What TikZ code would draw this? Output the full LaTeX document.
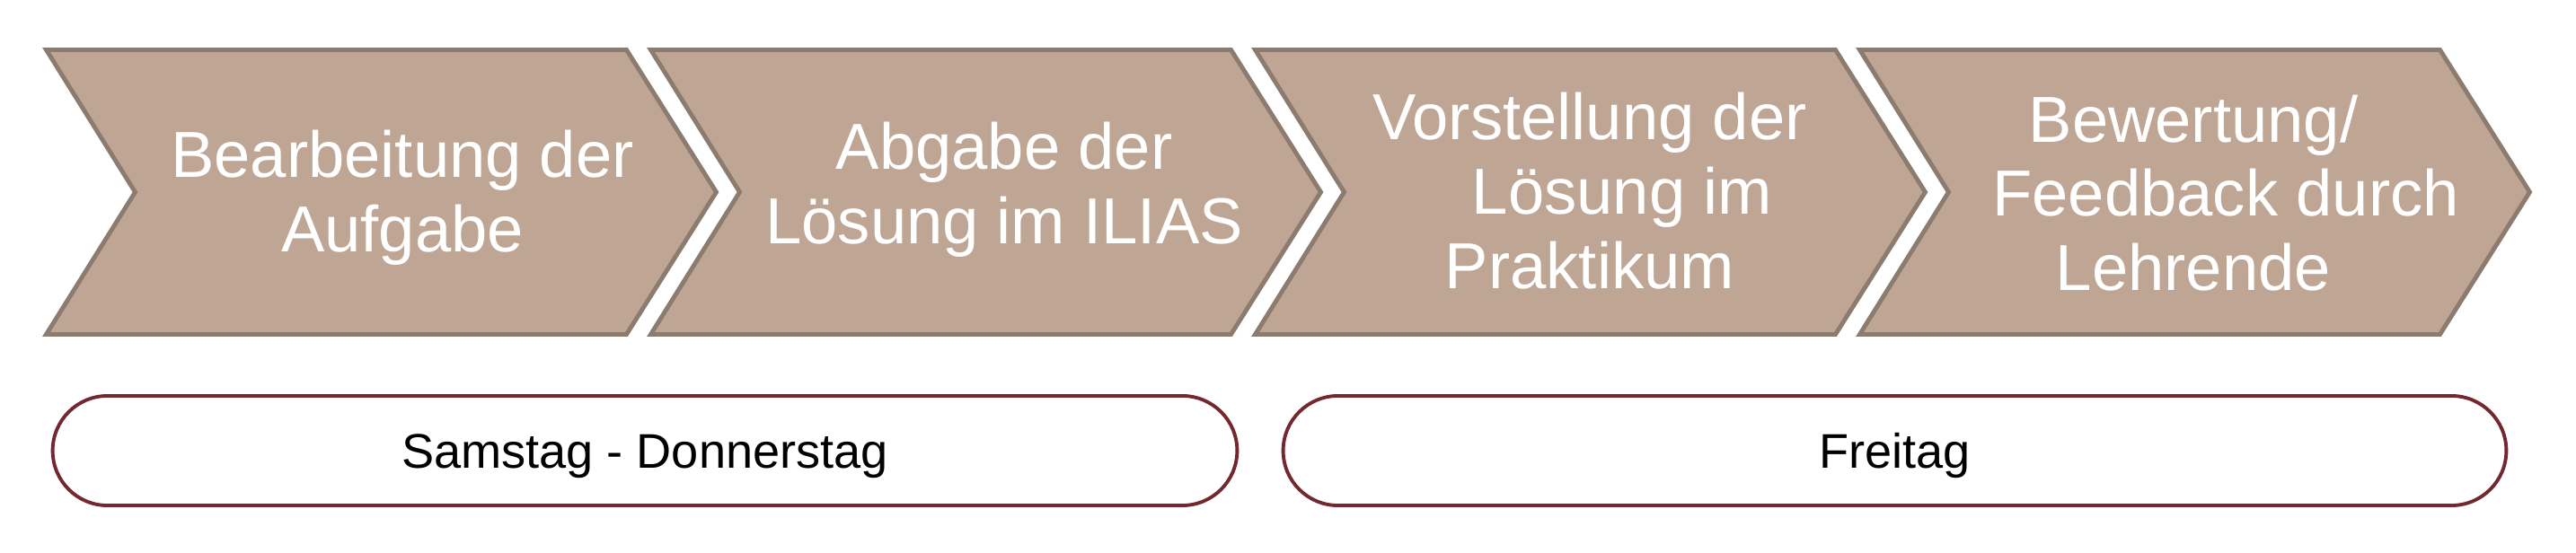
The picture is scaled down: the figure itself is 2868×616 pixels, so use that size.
\documentclass[tikz,border=0pt]{standalone}
\usepackage{fontspec}
\setmainfont{Liberation Sans}
\usepackage{tikz}

\definecolor{phasefill}{HTML}{BFA593}
\definecolor{phaseline}{HTML}{8C7B6F}
\definecolor{dayline}{HTML}{72282E}

\begin{document}
\begin{tikzpicture}[
      x=0.01cm, y=-0.01cm,
      phase/.style={fill=phasefill, draw=phaseline, line width=1.4pt},
      phasetext/.style={text=white, align=center, font=\fontsize{20.6}{23.5}\selectfont},
      days/.style={draw=dayline, line width=1.1pt, rounded corners=0.61cm, minimum height=1.22cm,
        text height=11pt, text depth=0pt, font=\fontsize{15.4}{18}\selectfont}
    ]
    \useasboundingbox (0,0) rectangle (2868,616);

    % chevrons
    \foreach \x in {51.5, 724.5, 1397.5, 2070.5}
      \draw[phase] (\x,55.5) -- ++(646,0) -- ++(100,158.5) -- ++(-100,158.5) -- ++(-646,0) -- ++(99,-158.5) -- cycle;

    \node[phasetext] (bearbeitung) at (448,220) {Bearbeitung der\\Aufgabe};
    \node[phasetext] (abgabe) at (1118,211) {Abgabe der\\Lösung im ILIAS};
    \node[phasetext] (vorstellung) at (1770,212.5) {Vorstellung der\\\hspace*{0.72cm}Lösung im\\Praktikum};
    \node[phasetext] (bewertung) at (2442,215) {Bewertung/\\\hspace*{0.72cm}Feedback durch\\Lehrende};

    % days
    \node[days, minimum width=13.18cm] (samdo) at (718,502) {Samstag - Donnerstag};
    \node[days, minimum width=13.61cm] (freitag) at (2109.5,502) {Freitag};
  \end{tikzpicture}
\end{document}
